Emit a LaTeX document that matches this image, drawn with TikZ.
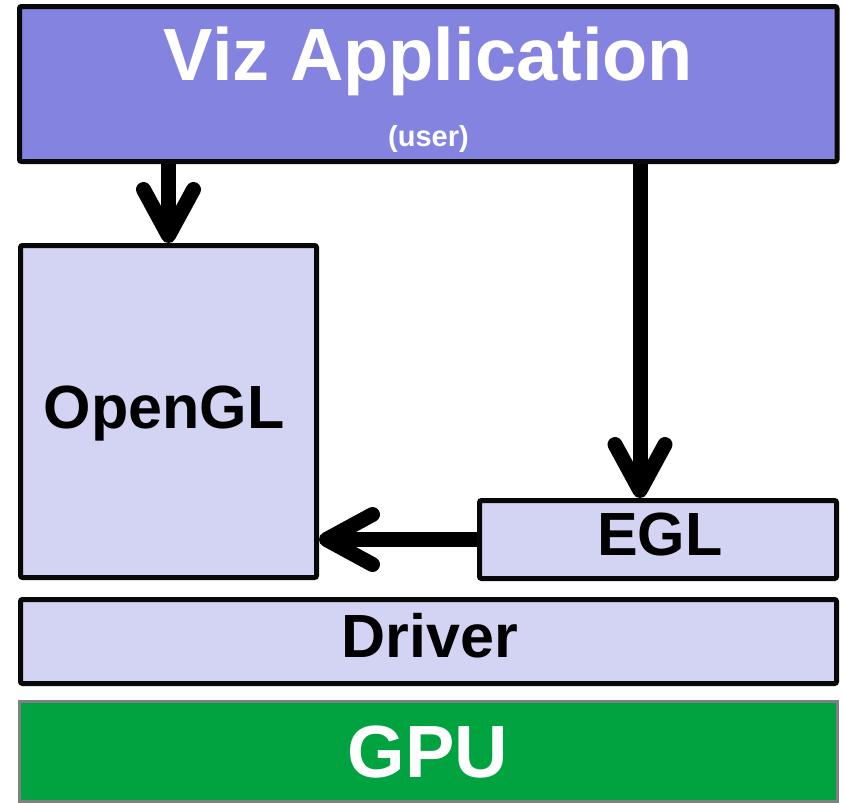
\documentclass[tikz,border=0pt]{standalone}
\usepackage{fontspec}
\setmainfont{Liberation Sans}
\usetikzlibrary{arrows.meta}
\definecolor{vizfill}{RGB}{132,132,224}
\definecolor{layerfill}{RGB}{211,211,243}
\definecolor{gpufill}{RGB}{0,163,64}
\definecolor{gpuborder}{RGB}{128,128,128}
\definecolor{edgecol}{RGB}{8,8,8}
\begin{document}
\begin{tikzpicture}[x=1pt,y=-1pt,
  box/.style={draw=edgecol, line width=5pt, rounded corners=2pt, inner sep=0pt},
  conn/.style={line width=15pt, draw=black, -{Straight Barb[round, length=46pt, width=50pt]}},
  lbl/.style={anchor=base, inner sep=0pt, font=\fontsize{60}{66}\bfseries\selectfont}]
\useasboundingbox (0,0) rectangle (844,803);
% boxes
\node[box, fill=vizfill, minimum width=817.5pt, minimum height=155pt] (viz) at (428.25,84) {};
\node[box, fill=layerfill, minimum width=296pt, minimum height=332pt] (opengl) at (168.5,411.5) {};
\node[box, fill=layerfill, minimum width=357pt, minimum height=78pt] (egl) at (658,539.5) {};
\node[box, fill=layerfill, minimum width=816pt, minimum height=84pt] (driver) at (428.5,641.5) {};
\node[draw=gpuborder, line width=3pt, fill=gpufill, inner sep=0pt, minimum width=818pt, minimum height=100pt] (gpu) at (428.5,751.5) {};
% texts
\node[lbl, text=white, font=\fontsize{74}{80}\bfseries\selectfont] (viztext) at (428.5,80) {Viz Application};
\node[lbl, text=white, font=\fontsize{29}{32}\bfseries\selectfont] (usertext) at (428.5,146) {(user)};
\node[lbl, font=\fontsize{61}{66}\bfseries\selectfont] (opengltext) at (164,428) {OpenGL};
\node[lbl, font=\fontsize{61}{66}\bfseries\selectfont] (egltext) at (660,555) {EGL};
\node[lbl, font=\fontsize{61}{66}\bfseries\selectfont] (drivertext) at (430,657) {Driver};
\node[lbl, text=white, font=\fontsize{74}{80}\bfseries\selectfont] (gputext) at (428,777) {GPU};
% connectors
\draw[conn] (viz.south -| opengl.north) -- (opengl.north);
\draw[conn] (viz.south -| 640,0) -- (egl.north -| 640,0);
\draw[conn] (egl.west) -- (opengl.east |- egl.west);
\end{tikzpicture}
\end{document}
